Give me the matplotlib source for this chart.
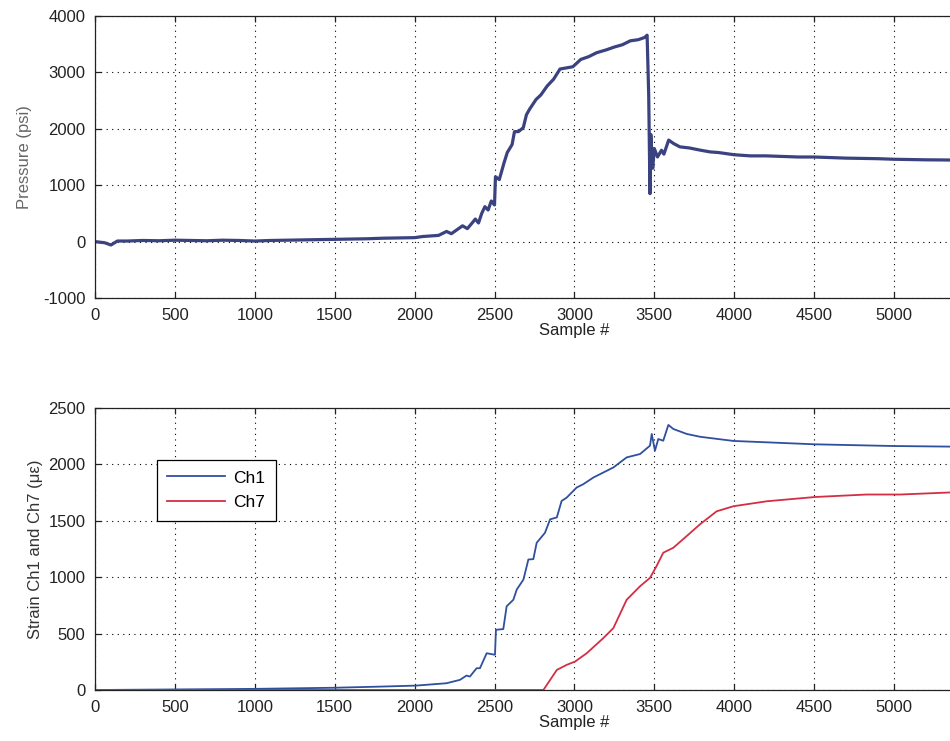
import numpy as np
import matplotlib.pyplot as plt

plt.rcParams['font.family'] = ['Liberation Sans', 'DejaVu Sans']
plt.rcParams['axes.unicode_minus'] = False

# pressure trace (sample #, psi)
p_x = [0, 60, 100, 140, 200, 300, 400, 500, 600, 700, 800, 900, 1000, 1100,
       1200, 1300, 1400, 1500, 1600, 1700, 1800, 1900, 2000, 2050, 2100, 2150,
       2200, 2230, 2260, 2300, 2330, 2360, 2380, 2400, 2420, 2440, 2460, 2480,
       2500, 2506, 2530, 2560, 2580, 2610, 2625, 2650, 2680, 2700, 2720, 2760,
       2790, 2830, 2870, 2910, 2950, 2990, 3040, 3090, 3140, 3200, 3250, 3300,
       3350, 3400, 3420, 3440, 3455, 3465, 3473, 3478, 3490, 3500, 3520, 3545,
       3560, 3590, 3620, 3660, 3720, 3790, 3850, 3900, 4000, 4100, 4200, 4300,
       4400, 4500, 4600, 4700, 4800, 4900, 5000, 5100, 5200, 5300, 5400]
p_y = [0, -20, -60, 10, 10, 20, 15, 25, 20, 15, 25, 20, 10, 20,
       25, 30, 35, 40, 45, 50, 60, 65, 70, 90, 100, 110,
       180, 140, 200, 280, 230, 330, 400, 330, 500, 620, 560, 720,
       650, 1150, 1100, 1400, 1580, 1720, 1950, 1950, 2020, 2250, 2350, 2520,
       2600, 2760, 2880, 3060, 3080, 3100, 3230, 3280, 3350, 3400, 3450, 3490,
       3560, 3580, 3600, 3620, 3660, 2600, 850, 1900, 1300, 1650, 1500, 1620,
       1550, 1800, 1740, 1680, 1660, 1620, 1590, 1580, 1540, 1520, 1520, 1510,
       1500, 1500, 1490, 1480, 1475, 1470, 1460, 1455, 1450, 1448, 1445]

# strain Ch1 (με)
ch1_x = [0, 500, 1000, 1500, 1783, 2009, 2200, 2284, 2325, 2346, 2388, 2409,
         2451, 2503, 2509, 2555, 2576, 2618, 2639, 2681, 2712, 2743, 2764,
         2816, 2848, 2890, 2920, 2952, 3014, 3056, 3119, 3244, 3327, 3411,
         3473, 3484, 3504, 3525, 3556, 3588, 3619, 3703, 3786, 3995, 4506,
         4996, 5400]
ch1_y = [0, 5, 10, 20, 30, 39, 60, 90, 128, 119, 193, 193,
         326, 312, 534, 540, 742, 800, 890, 979, 1157, 1160, 1305,
         1394, 1513, 1530, 1676, 1706, 1795, 1825, 1884, 1973, 2062, 2092,
         2166, 2270, 2121, 2225, 2210, 2350, 2314, 2270, 2245, 2208, 2178,
         2163, 2157]

# strain Ch7 (με)
ch7_x = [0, 1000, 2000, 2600, 2806, 2890, 2952, 3004, 3077, 3181, 3244, 3327,
         3411, 3473, 3514, 3556, 3619, 3703, 3786, 3890, 3995, 4203, 4506,
         4829, 5038, 5400]
ch7_y = [0, 0, 0, 0, 0, 178, 223, 252, 326, 460, 549, 800,
         920, 994, 1098, 1217, 1261, 1365, 1469, 1584, 1629, 1673, 1711,
         1733, 1733, 1754]

x_ticks = np.arange(0, 6001, 500)
x_labels = [str(v) if v <= 5000 else '' for v in x_ticks]
p_ticks = np.arange(-1000, 4001, 1000)
s_ticks = np.arange(0, 2501, 500)

fig = plt.figure(figsize=(9.5, 7.41), dpi=100)
W = 6000 * 0.1598 / 950
ax1 = fig.add_axes([0.1, 1 - 298 / 741, W, 282 / 741])
ax2 = fig.add_axes([0.1, 1 - 690 / 741, W, 282 / 741])


def style(ax, yticks):
    ax.set_xlim(0, 6000)
    ax.set_xticks(x_ticks)
    ax.set_xticklabels(x_labels)
    ax.set_yticks(yticks)
    ax.set_ylim(yticks[0], yticks[-1])
    ax.grid(True, color='black', linestyle=(0, (1, 4)), linewidth=0.8)
    ax.tick_params(direction='in', length=4, width=0.9, top=True, right=True,
                   labelsize=12, pad=7, colors='#222222')
    for s in ax.spines.values():
        s.set_linewidth(0.9)
        s.set_color('#222222')
    ax.set_xlabel('Sample #', fontsize=12, labelpad=0, color='#222222')


ax1.plot(p_x, p_y, color='#3a4280', lw=2.3)
style(ax1, p_ticks)
ax1.set_ylabel('Pressure (psi)', fontsize=12, color='#666666', labelpad=8)

ax2.plot(ch1_x, ch1_y, color='#2f4f9f', lw=1.3, label='Ch1')
ax2.plot(ch7_x, ch7_y, color='#d42e44', lw=1.3, label='Ch7')
style(ax2, s_ticks)
ax2.set_ylabel('Strain Ch1 and Ch7 (με)', fontsize=12, color='#333333', labelpad=4)
leg = ax2.legend(loc='upper left', bbox_to_anchor=(62 / 958.8, 1 - 52 / 282),
                 borderaxespad=0, fancybox=False, fontsize=12.5, handlelength=3.3,
                 framealpha=1, edgecolor='black', borderpad=0.6, labelspacing=0.55,
                 handletextpad=0.5)
leg.get_frame().set_linewidth(0.9)

fig.savefig('out.png', dpi=100)
